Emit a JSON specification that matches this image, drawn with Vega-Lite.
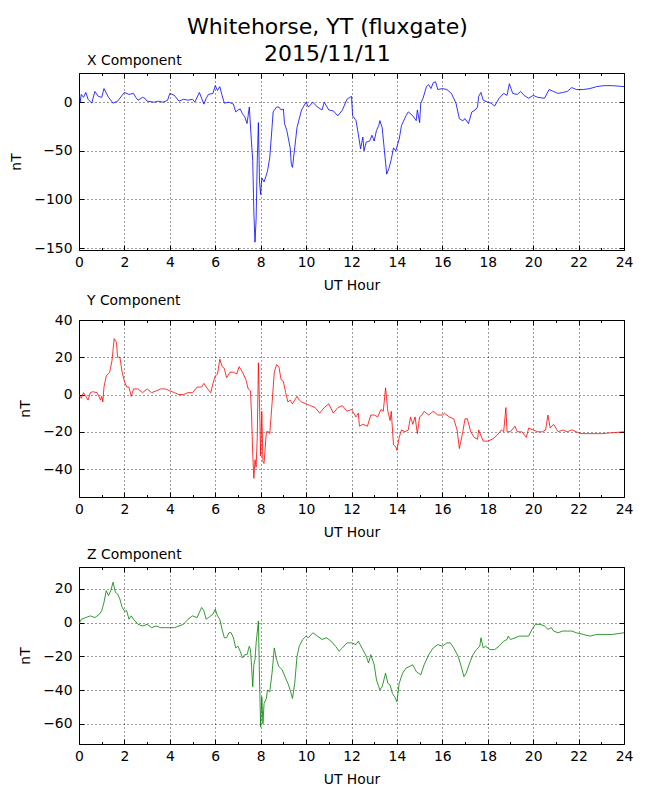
{
  "$schema": "https://vega.github.io/schema/vega-lite/v6.json",
  "padding": {"left": 9, "top": 15, "right": 5, "bottom": 5},
  "background": "white",
  "title": {
    "text": ["Whitehorse, YT (fluxgate)", "2015/11/11"],
    "fontSize": 22,
    "fontWeight": "normal",
    "font": "DejaVu Sans",
    "color": "black",
    "anchor": "middle",
    "lineHeight": 27.5,
    "dx": 6,
    "offset": -13
  },
  "datasets": {
    "xcomp": [
      {"h": 0, "v": 10}, {"h": 0.05, "v": 0}, {"h": 0.1, "v": 8}, {"h": 0.2, "v": 5}, {"h": 0.3, "v": 10},
      {"h": 0.4, "v": 3}, {"h": 0.56, "v": -1}, {"h": 0.7, "v": 11}, {"h": 0.85, "v": 6}, {"h": 1.0, "v": 5},
      {"h": 1.1, "v": 14}, {"h": 1.3, "v": 5}, {"h": 1.5, "v": -1}, {"h": 1.7, "v": 1}, {"h": 2.0, "v": 10},
      {"h": 2.2, "v": 8}, {"h": 2.4, "v": 9}, {"h": 2.5, "v": 5}, {"h": 2.6, "v": 2}, {"h": 2.8, "v": 5},
      {"h": 2.9, "v": 4}, {"h": 3.0, "v": 1}, {"h": 3.3, "v": 0}, {"h": 3.5, "v": 1}, {"h": 3.7, "v": 0},
      {"h": 3.9, "v": 2}, {"h": 4.0, "v": 9}, {"h": 4.2, "v": 7}, {"h": 4.4, "v": 1}, {"h": 4.6, "v": 3},
      {"h": 4.8, "v": 2}, {"h": 5.0, "v": 3}, {"h": 5.1, "v": 0}, {"h": 5.3, "v": 10}, {"h": 5.5, "v": -2},
      {"h": 5.6, "v": 4}, {"h": 5.7, "v": 8}, {"h": 5.9, "v": 9}, {"h": 6.0, "v": 17}, {"h": 6.1, "v": 12},
      {"h": 6.2, "v": 16}, {"h": 6.3, "v": 7}, {"h": 6.4, "v": -1}, {"h": 6.6, "v": 0}, {"h": 6.8, "v": -2},
      {"h": 6.9, "v": -10}, {"h": 7.0, "v": -8}, {"h": 7.1, "v": -7}, {"h": 7.2, "v": -12}, {"h": 7.3, "v": -15},
      {"h": 7.4, "v": -22}, {"h": 7.5, "v": -5}, {"h": 7.6, "v": -43}, {"h": 7.65, "v": -60}, {"h": 7.7, "v": -113},
      {"h": 7.75, "v": -144}, {"h": 7.8, "v": -120}, {"h": 7.85, "v": -60}, {"h": 7.9, "v": -21}, {"h": 7.95, "v": -82},
      {"h": 8.0, "v": -95}, {"h": 8.05, "v": -78}, {"h": 8.15, "v": -82}, {"h": 8.3, "v": -71}, {"h": 8.4, "v": -57},
      {"h": 8.5, "v": -26}, {"h": 8.55, "v": -10}, {"h": 8.7, "v": -5}, {"h": 8.8, "v": -5}, {"h": 8.9, "v": -8},
      {"h": 9.0, "v": -7}, {"h": 9.05, "v": -22}, {"h": 9.15, "v": -29}, {"h": 9.3, "v": -47}, {"h": 9.35, "v": -64},
      {"h": 9.4, "v": -67}, {"h": 9.5, "v": -47}, {"h": 9.6, "v": -26}, {"h": 9.8, "v": -8}, {"h": 10.0, "v": 0},
      {"h": 10.1, "v": -5}, {"h": 10.3, "v": 0}, {"h": 10.5, "v": -5}, {"h": 10.7, "v": -8}, {"h": 10.8, "v": 0},
      {"h": 11.0, "v": -8}, {"h": 11.2, "v": -9}, {"h": 11.4, "v": -14}, {"h": 11.6, "v": -8}, {"h": 11.8, "v": 3},
      {"h": 12.0, "v": 6}, {"h": 12.05, "v": -14}, {"h": 12.2, "v": -19}, {"h": 12.3, "v": -33}, {"h": 12.4, "v": -48},
      {"h": 12.5, "v": -36}, {"h": 12.55, "v": -50}, {"h": 12.65, "v": -41}, {"h": 12.8, "v": -40}, {"h": 12.9, "v": -34},
      {"h": 13.0, "v": -40}, {"h": 13.1, "v": -29}, {"h": 13.2, "v": -24}, {"h": 13.25, "v": -19}, {"h": 13.35, "v": -26},
      {"h": 13.45, "v": -50}, {"h": 13.55, "v": -74}, {"h": 13.65, "v": -68}, {"h": 13.75, "v": -59}, {"h": 13.85, "v": -47},
      {"h": 13.95, "v": -50}, {"h": 14.1, "v": -38}, {"h": 14.2, "v": -24}, {"h": 14.4, "v": -14}, {"h": 14.5, "v": -10},
      {"h": 14.7, "v": -14}, {"h": 14.85, "v": -19}, {"h": 14.9, "v": -8}, {"h": 15.0, "v": -21}, {"h": 15.05, "v": -1},
      {"h": 15.15, "v": 4}, {"h": 15.3, "v": 16}, {"h": 15.4, "v": 18}, {"h": 15.5, "v": 14}, {"h": 15.6, "v": 20},
      {"h": 15.7, "v": 21}, {"h": 15.8, "v": 13}, {"h": 16.0, "v": 14}, {"h": 16.2, "v": 13}, {"h": 16.4, "v": 9},
      {"h": 16.6, "v": -1}, {"h": 16.75, "v": -17}, {"h": 16.9, "v": -19}, {"h": 17.0, "v": -17}, {"h": 17.15, "v": -22},
      {"h": 17.3, "v": -10}, {"h": 17.45, "v": -8}, {"h": 17.55, "v": -5}, {"h": 17.6, "v": 6}, {"h": 17.7, "v": 10},
      {"h": 17.8, "v": 2}, {"h": 18.0, "v": 0}, {"h": 18.15, "v": -1}, {"h": 18.3, "v": -4}, {"h": 18.5, "v": 4},
      {"h": 18.7, "v": 9}, {"h": 18.85, "v": 7}, {"h": 18.95, "v": 19}, {"h": 19.1, "v": 9}, {"h": 19.3, "v": 8},
      {"h": 19.45, "v": 11}, {"h": 19.6, "v": 7}, {"h": 19.8, "v": 4}, {"h": 20.0, "v": 7}, {"h": 20.2, "v": 5},
      {"h": 20.5, "v": 4}, {"h": 20.7, "v": 13}, {"h": 20.9, "v": 11}, {"h": 21.1, "v": 9}, {"h": 21.3, "v": 10},
      {"h": 21.5, "v": 11}, {"h": 21.7, "v": 15}, {"h": 21.9, "v": 13}, {"h": 22.2, "v": 13}, {"h": 22.5, "v": 14},
      {"h": 22.8, "v": 16}, {"h": 23.1, "v": 17}, {"h": 23.5, "v": 17}, {"h": 24.0, "v": 16}
    ],
    "ycomp": [
      {"h": 0, "v": 0}, {"h": 0.1, "v": -2}, {"h": 0.2, "v": 1}, {"h": 0.3, "v": -1}, {"h": 0.4, "v": -3},
      {"h": 0.5, "v": 1}, {"h": 0.6, "v": 1.5}, {"h": 0.8, "v": 1}, {"h": 0.95, "v": -3}, {"h": 1.0, "v": -1},
      {"h": 1.05, "v": -4}, {"h": 1.1, "v": 4}, {"h": 1.2, "v": 10}, {"h": 1.35, "v": 12}, {"h": 1.45, "v": 18},
      {"h": 1.55, "v": 30}, {"h": 1.65, "v": 28}, {"h": 1.7, "v": 20}, {"h": 1.8, "v": 20}, {"h": 1.9, "v": 12},
      {"h": 2.0, "v": 7}, {"h": 2.1, "v": 4}, {"h": 2.2, "v": 4}, {"h": 2.3, "v": -1}, {"h": 2.4, "v": 3},
      {"h": 2.6, "v": 3}, {"h": 2.8, "v": 1}, {"h": 3.0, "v": 3}, {"h": 3.2, "v": 1}, {"h": 3.4, "v": 2},
      {"h": 3.6, "v": 3}, {"h": 3.8, "v": 3}, {"h": 4.0, "v": 2}, {"h": 4.2, "v": 1}, {"h": 4.4, "v": 0},
      {"h": 4.6, "v": 0}, {"h": 4.8, "v": 1}, {"h": 5.0, "v": 1}, {"h": 5.2, "v": 4}, {"h": 5.4, "v": 4},
      {"h": 5.5, "v": 6}, {"h": 5.6, "v": 4}, {"h": 5.8, "v": 1}, {"h": 5.9, "v": 6}, {"h": 6.0, "v": 10},
      {"h": 6.1, "v": 11}, {"h": 6.2, "v": 19}, {"h": 6.3, "v": 15}, {"h": 6.4, "v": 14}, {"h": 6.5, "v": 9},
      {"h": 6.65, "v": 12}, {"h": 6.8, "v": 12}, {"h": 6.95, "v": 11}, {"h": 7.05, "v": 15}, {"h": 7.2, "v": 12},
      {"h": 7.35, "v": 8}, {"h": 7.45, "v": 3}, {"h": 7.55, "v": 2}, {"h": 7.6, "v": -11}, {"h": 7.65, "v": -32},
      {"h": 7.7, "v": -45}, {"h": 7.75, "v": -35}, {"h": 7.8, "v": -39}, {"h": 7.85, "v": -23}, {"h": 7.9, "v": 17},
      {"h": 7.95, "v": -5}, {"h": 8.0, "v": -33}, {"h": 8.05, "v": -9}, {"h": 8.1, "v": -36}, {"h": 8.15, "v": -37},
      {"h": 8.25, "v": -20}, {"h": 8.35, "v": -20}, {"h": 8.4, "v": -21}, {"h": 8.5, "v": -5}, {"h": 8.6, "v": 12},
      {"h": 8.7, "v": 16}, {"h": 8.8, "v": 15}, {"h": 8.9, "v": 8}, {"h": 9.0, "v": 7}, {"h": 9.1, "v": 1},
      {"h": 9.2, "v": -4}, {"h": 9.3, "v": -3}, {"h": 9.4, "v": -5}, {"h": 9.5, "v": -3}, {"h": 9.6, "v": -1},
      {"h": 9.7, "v": -3}, {"h": 9.8, "v": -4}, {"h": 10.0, "v": -5}, {"h": 10.2, "v": -6}, {"h": 10.4, "v": -7},
      {"h": 10.6, "v": -10}, {"h": 10.8, "v": -7}, {"h": 11.0, "v": -5}, {"h": 11.2, "v": -10}, {"h": 11.4, "v": -7},
      {"h": 11.6, "v": -6}, {"h": 11.8, "v": -9}, {"h": 12.0, "v": -8}, {"h": 12.2, "v": -12}, {"h": 12.3, "v": -10},
      {"h": 12.35, "v": -17}, {"h": 12.5, "v": -16}, {"h": 12.7, "v": -17}, {"h": 12.85, "v": -11}, {"h": 13.0, "v": -11},
      {"h": 13.15, "v": -12}, {"h": 13.3, "v": -8}, {"h": 13.4, "v": -9}, {"h": 13.5, "v": 3.6}, {"h": 13.6, "v": -9},
      {"h": 13.7, "v": -14}, {"h": 13.75, "v": -9}, {"h": 13.85, "v": -27}, {"h": 13.95, "v": -28}, {"h": 14.0, "v": -30},
      {"h": 14.1, "v": -23}, {"h": 14.2, "v": -19}, {"h": 14.35, "v": -20}, {"h": 14.5, "v": -19}, {"h": 14.6, "v": -12},
      {"h": 14.7, "v": -16}, {"h": 14.8, "v": -12}, {"h": 14.9, "v": -21}, {"h": 15.0, "v": -12}, {"h": 15.1, "v": -11},
      {"h": 15.2, "v": -9}, {"h": 15.4, "v": -11}, {"h": 15.6, "v": -9}, {"h": 15.8, "v": -11}, {"h": 16.0, "v": -11},
      {"h": 16.1, "v": -10}, {"h": 16.3, "v": -12}, {"h": 16.5, "v": -13}, {"h": 16.65, "v": -19}, {"h": 16.75, "v": -29},
      {"h": 16.9, "v": -20}, {"h": 17.0, "v": -13}, {"h": 17.1, "v": -13}, {"h": 17.25, "v": -20}, {"h": 17.4, "v": -23},
      {"h": 17.55, "v": -24}, {"h": 17.6, "v": -19}, {"h": 17.8, "v": -25}, {"h": 18.0, "v": -25}, {"h": 18.2, "v": -24},
      {"h": 18.4, "v": -22}, {"h": 18.6, "v": -19}, {"h": 18.7, "v": -20}, {"h": 18.8, "v": -7}, {"h": 18.85, "v": -20},
      {"h": 19.0, "v": -20}, {"h": 19.2, "v": -17}, {"h": 19.3, "v": -20}, {"h": 19.5, "v": -20}, {"h": 19.7, "v": -23},
      {"h": 19.8, "v": -18}, {"h": 20.0, "v": -19}, {"h": 20.2, "v": -20}, {"h": 20.4, "v": -20}, {"h": 20.55, "v": -19},
      {"h": 20.65, "v": -11}, {"h": 20.75, "v": -18}, {"h": 20.9, "v": -16}, {"h": 21.1, "v": -20}, {"h": 21.3, "v": -19},
      {"h": 21.5, "v": -20}, {"h": 21.7, "v": -19}, {"h": 21.9, "v": -20}, {"h": 22.1, "v": -21}, {"h": 22.4, "v": -21},
      {"h": 22.7, "v": -21}, {"h": 23.0, "v": -21}, {"h": 23.5, "v": -20.5}, {"h": 24.0, "v": -20}
    ],
    "zcomp": [
      {"h": 0, "v": -1}, {"h": 0.1, "v": 2}, {"h": 0.3, "v": 3}, {"h": 0.5, "v": 4}, {"h": 0.7, "v": 3},
      {"h": 0.9, "v": 5}, {"h": 1.0, "v": 7}, {"h": 1.1, "v": 12}, {"h": 1.2, "v": 19}, {"h": 1.3, "v": 16},
      {"h": 1.4, "v": 19}, {"h": 1.5, "v": 24}, {"h": 1.6, "v": 18}, {"h": 1.7, "v": 17}, {"h": 1.8, "v": 14},
      {"h": 1.9, "v": 9}, {"h": 2.0, "v": 7}, {"h": 2.1, "v": 7}, {"h": 2.2, "v": 2}, {"h": 2.3, "v": 4},
      {"h": 2.4, "v": 2}, {"h": 2.6, "v": -1}, {"h": 2.8, "v": -2}, {"h": 3.0, "v": -1}, {"h": 3.2, "v": -3},
      {"h": 3.4, "v": -2}, {"h": 3.6, "v": -3}, {"h": 3.8, "v": -3}, {"h": 4.0, "v": -3}, {"h": 4.2, "v": -3},
      {"h": 4.4, "v": -2}, {"h": 4.6, "v": -1}, {"h": 4.8, "v": 2}, {"h": 5.0, "v": 4}, {"h": 5.2, "v": 3},
      {"h": 5.3, "v": 6}, {"h": 5.4, "v": 9}, {"h": 5.5, "v": 7}, {"h": 5.6, "v": 2}, {"h": 5.7, "v": 3},
      {"h": 5.8, "v": 4}, {"h": 5.9, "v": 5}, {"h": 6.0, "v": 8}, {"h": 6.1, "v": 4}, {"h": 6.2, "v": 2},
      {"h": 6.3, "v": -4}, {"h": 6.4, "v": -9}, {"h": 6.5, "v": -9}, {"h": 6.6, "v": -6}, {"h": 6.7, "v": -6},
      {"h": 6.8, "v": -9}, {"h": 6.9, "v": -15}, {"h": 7.0, "v": -14}, {"h": 7.1, "v": -17}, {"h": 7.2, "v": -21},
      {"h": 7.3, "v": -19}, {"h": 7.4, "v": -19}, {"h": 7.5, "v": -14}, {"h": 7.55, "v": -16}, {"h": 7.6, "v": -26},
      {"h": 7.65, "v": -38}, {"h": 7.7, "v": -25}, {"h": 7.75, "v": -22}, {"h": 7.8, "v": -12}, {"h": 7.9, "v": 1},
      {"h": 7.95, "v": -34}, {"h": 8.0, "v": -62}, {"h": 8.05, "v": -44}, {"h": 8.1, "v": -60}, {"h": 8.15, "v": -48},
      {"h": 8.25, "v": -45}, {"h": 8.3, "v": -40}, {"h": 8.4, "v": -41}, {"h": 8.5, "v": -30}, {"h": 8.6, "v": -15},
      {"h": 8.7, "v": -22}, {"h": 8.8, "v": -26}, {"h": 8.95, "v": -28}, {"h": 9.1, "v": -33}, {"h": 9.2, "v": -36},
      {"h": 9.3, "v": -40}, {"h": 9.4, "v": -45}, {"h": 9.5, "v": -36}, {"h": 9.6, "v": -20}, {"h": 9.7, "v": -14},
      {"h": 9.85, "v": -10}, {"h": 10.0, "v": -8}, {"h": 10.1, "v": -9}, {"h": 10.3, "v": -6}, {"h": 10.5, "v": -8},
      {"h": 10.7, "v": -10}, {"h": 10.9, "v": -9}, {"h": 11.1, "v": -11}, {"h": 11.3, "v": -14}, {"h": 11.45, "v": -17},
      {"h": 11.6, "v": -15}, {"h": 11.8, "v": -12}, {"h": 12.0, "v": -12}, {"h": 12.2, "v": -13}, {"h": 12.3, "v": -11},
      {"h": 12.5, "v": -16}, {"h": 12.65, "v": -20}, {"h": 12.75, "v": -24}, {"h": 12.85, "v": -19}, {"h": 13.0, "v": -25},
      {"h": 13.1, "v": -34}, {"h": 13.25, "v": -40}, {"h": 13.35, "v": -38}, {"h": 13.5, "v": -30}, {"h": 13.6, "v": -36},
      {"h": 13.7, "v": -37}, {"h": 13.8, "v": -42}, {"h": 13.9, "v": -44}, {"h": 14.0, "v": -47}, {"h": 14.1, "v": -36},
      {"h": 14.25, "v": -30}, {"h": 14.4, "v": -27}, {"h": 14.55, "v": -26}, {"h": 14.7, "v": -25}, {"h": 14.85, "v": -29},
      {"h": 14.95, "v": -30}, {"h": 15.05, "v": -31}, {"h": 15.2, "v": -25}, {"h": 15.4, "v": -19}, {"h": 15.6, "v": -15},
      {"h": 15.8, "v": -13}, {"h": 16.0, "v": -14}, {"h": 16.2, "v": -12}, {"h": 16.35, "v": -12}, {"h": 16.5, "v": -15},
      {"h": 16.7, "v": -20}, {"h": 16.85, "v": -27}, {"h": 16.95, "v": -32}, {"h": 17.05, "v": -30}, {"h": 17.2, "v": -24},
      {"h": 17.35, "v": -19}, {"h": 17.5, "v": -16}, {"h": 17.65, "v": -14}, {"h": 17.7, "v": -9}, {"h": 17.8, "v": -15},
      {"h": 17.9, "v": -14}, {"h": 18.1, "v": -16}, {"h": 18.3, "v": -16}, {"h": 18.5, "v": -14}, {"h": 18.7, "v": -11},
      {"h": 18.85, "v": -10}, {"h": 18.9, "v": -8}, {"h": 19.0, "v": -10}, {"h": 19.2, "v": -9}, {"h": 19.4, "v": -8},
      {"h": 19.6, "v": -8}, {"h": 19.8, "v": -8}, {"h": 19.95, "v": -4}, {"h": 20.1, "v": -1}, {"h": 20.3, "v": -1},
      {"h": 20.5, "v": -2}, {"h": 20.65, "v": -4}, {"h": 20.8, "v": -3}, {"h": 20.9, "v": -5}, {"h": 21.1, "v": -6},
      {"h": 21.3, "v": -5}, {"h": 21.5, "v": -5}, {"h": 21.7, "v": -5}, {"h": 21.9, "v": -6}, {"h": 22.2, "v": -7},
      {"h": 22.5, "v": -8}, {"h": 22.8, "v": -7}, {"h": 23.1, "v": -7}, {"h": 23.5, "v": -7}, {"h": 24.0, "v": -6}
    ]
  },
  "vconcat": [
    {
      "data": {"name": "xcomp"},
      "title": {"text": "X Component", "anchor": "start", "frame": "group", "dx": 8, "fontSize": 13.9, "fontWeight": "normal", "offset": 5},
      "width": 545,
      "height": 177,
      "layer": [
        {
          "mark": {"type": "line", "color": "#0000ff", "strokeWidth": 0.8, "clip": true},
          "encoding": {
            "x": {"field": "h", "type": "quantitative", "scale": {"domain": [0, 24], "nice": false},
              "axis": {"title": "UT Hour", "orient": "bottom", "values": [0,1,2,3,4,5,6,7,8,9,10,11,12,13,14,15,16,17,18,19,20,21,22,23,24],
                "labelExpr": "datum.value % 2 ? '' : datum.label",
                "gridOpacity": {"condition": {"test": "datum.value % 2 === 1", "value": 0}, "value": 1},
                "tickSize": {"condition": {"test": "datum.value % 2 === 1", "value": -2.5}, "value": -5}}},
            "y": {"field": "v", "type": "quantitative", "scale": {"domain": [-152, 30], "nice": false, "zero": false},
              "axis": {"title": "nT", "orient": "left", "values": [0, -50, -100, -150], "tickSize": -5}}
          }
        },
        {
          "mark": {"type": "line", "opacity": 0},
          "encoding": {
            "x": {"field": "h", "type": "quantitative", "scale": {"domain": [0, 24], "nice": false},
              "axis": {"title": null, "orient": "top", "labels": false, "grid": false, "values": [0,1,2,3,4,5,6,7,8,9,10,11,12,13,14,15,16,17,18,19,20,21,22,23,24],
                "tickSize": {"condition": {"test": "datum.value % 2 === 1", "value": -2.5}, "value": -5}}},
            "y": {"field": "v", "type": "quantitative", "scale": {"domain": [-152, 30], "nice": false, "zero": false},
              "axis": {"title": null, "orient": "right", "labels": false, "grid": false, "values": [0, -50, -100, -150], "tickSize": -5}}
          }
        }
      ],
      "resolve": {"axis": {"x": "independent", "y": "independent"}}
    },
    {
      "data": {"name": "ycomp"},
      "title": {"text": "Y Component", "anchor": "start", "frame": "group", "dx": 8, "fontSize": 13.9, "fontWeight": "normal", "offset": 5},
      "width": 545,
      "height": 177,
      "layer": [
        {
          "mark": {"type": "line", "color": "#ff0000", "strokeWidth": 0.8, "clip": true},
          "encoding": {
            "x": {"field": "h", "type": "quantitative", "scale": {"domain": [0, 24], "nice": false},
              "axis": {"title": "UT Hour", "orient": "bottom", "values": [0,1,2,3,4,5,6,7,8,9,10,11,12,13,14,15,16,17,18,19,20,21,22,23,24],
                "labelExpr": "datum.value % 2 ? '' : datum.label",
                "gridOpacity": {"condition": {"test": "datum.value % 2 === 1", "value": 0}, "value": 1},
                "tickSize": {"condition": {"test": "datum.value % 2 === 1", "value": -2.5}, "value": -5}}},
            "y": {"field": "v", "type": "quantitative", "scale": {"domain": [-55, 40], "nice": false, "zero": false},
              "axis": {"title": "nT", "orient": "left", "values": [40, 20, 0, -20, -40], "tickSize": -5}}
          }
        },
        {
          "mark": {"type": "line", "opacity": 0},
          "encoding": {
            "x": {"field": "h", "type": "quantitative", "scale": {"domain": [0, 24], "nice": false},
              "axis": {"title": null, "orient": "top", "labels": false, "grid": false, "values": [0,1,2,3,4,5,6,7,8,9,10,11,12,13,14,15,16,17,18,19,20,21,22,23,24],
                "tickSize": {"condition": {"test": "datum.value % 2 === 1", "value": -2.5}, "value": -5}}},
            "y": {"field": "v", "type": "quantitative", "scale": {"domain": [-55, 40], "nice": false, "zero": false},
              "axis": {"title": null, "orient": "right", "labels": false, "grid": false, "values": [40, 20, 0, -20, -40], "tickSize": -5}}
          }
        }
      ],
      "resolve": {"axis": {"x": "independent", "y": "independent"}}
    },
    {
      "data": {"name": "zcomp"},
      "title": {"text": "Z Component", "anchor": "start", "frame": "group", "dx": 8, "fontSize": 13.9, "fontWeight": "normal", "offset": 5},
      "width": 545,
      "height": 177,
      "layer": [
        {
          "mark": {"type": "line", "color": "#008000", "strokeWidth": 0.8, "clip": true},
          "encoding": {
            "x": {"field": "h", "type": "quantitative", "scale": {"domain": [0, 24], "nice": false},
              "axis": {"title": "UT Hour", "orient": "bottom", "values": [0,1,2,3,4,5,6,7,8,9,10,11,12,13,14,15,16,17,18,19,20,21,22,23,24],
                "labelExpr": "datum.value % 2 ? '' : datum.label",
                "gridOpacity": {"condition": {"test": "datum.value % 2 === 1", "value": 0}, "value": 1},
                "tickSize": {"condition": {"test": "datum.value % 2 === 1", "value": -2.5}, "value": -5}}},
            "y": {"field": "v", "type": "quantitative", "scale": {"domain": [-72, 33], "nice": false, "zero": false},
              "axis": {"title": "nT", "orient": "left", "values": [20, 0, -20, -40, -60], "tickSize": -5}}
          }
        },
        {
          "mark": {"type": "line", "opacity": 0},
          "encoding": {
            "x": {"field": "h", "type": "quantitative", "scale": {"domain": [0, 24], "nice": false},
              "axis": {"title": null, "orient": "top", "labels": false, "grid": false, "values": [0,1,2,3,4,5,6,7,8,9,10,11,12,13,14,15,16,17,18,19,20,21,22,23,24],
                "tickSize": {"condition": {"test": "datum.value % 2 === 1", "value": -2.5}, "value": -5}}},
            "y": {"field": "v", "type": "quantitative", "scale": {"domain": [-72, 33], "nice": false, "zero": false},
              "axis": {"title": null, "orient": "right", "labels": false, "grid": false, "values": [20, 0, -20, -40, -60], "tickSize": -5}}
          }
        }
      ],
      "resolve": {"axis": {"x": "independent", "y": "independent"}}
    }
  ],
  "spacing": 70,
  "bounds": "flush",
  "config": {
    "font": "DejaVu Sans",
    "view": {"stroke": "black", "strokeWidth": 1},
    "title": {"color": "black", "font": "DejaVu Sans", "fontWeight": "normal"},
    "axis": {
      "labelFont": "DejaVu Sans",
      "labelFontSize": 13.9,
      "labelColor": "black",
      "labelFlush": false,
      "labelOverlap": false,
      "titleFont": "DejaVu Sans",
      "titleFontSize": 13.9,
      "titleFontWeight": "normal",
      "titleColor": "black",
      "tickColor": "black",
      "tickWidth": 1,
      "domain": false,
      "grid": true,
      "gridColor": "black",
      "gridDash": [1, 3],
      "gridWidth": 0.8,
      "gridOpacity": 1
    },
    "axisX": {"labelPadding": 10, "titlePadding": 7},
    "axisY": {"labelPadding": 12, "titlePadding": 10}
  }
}
